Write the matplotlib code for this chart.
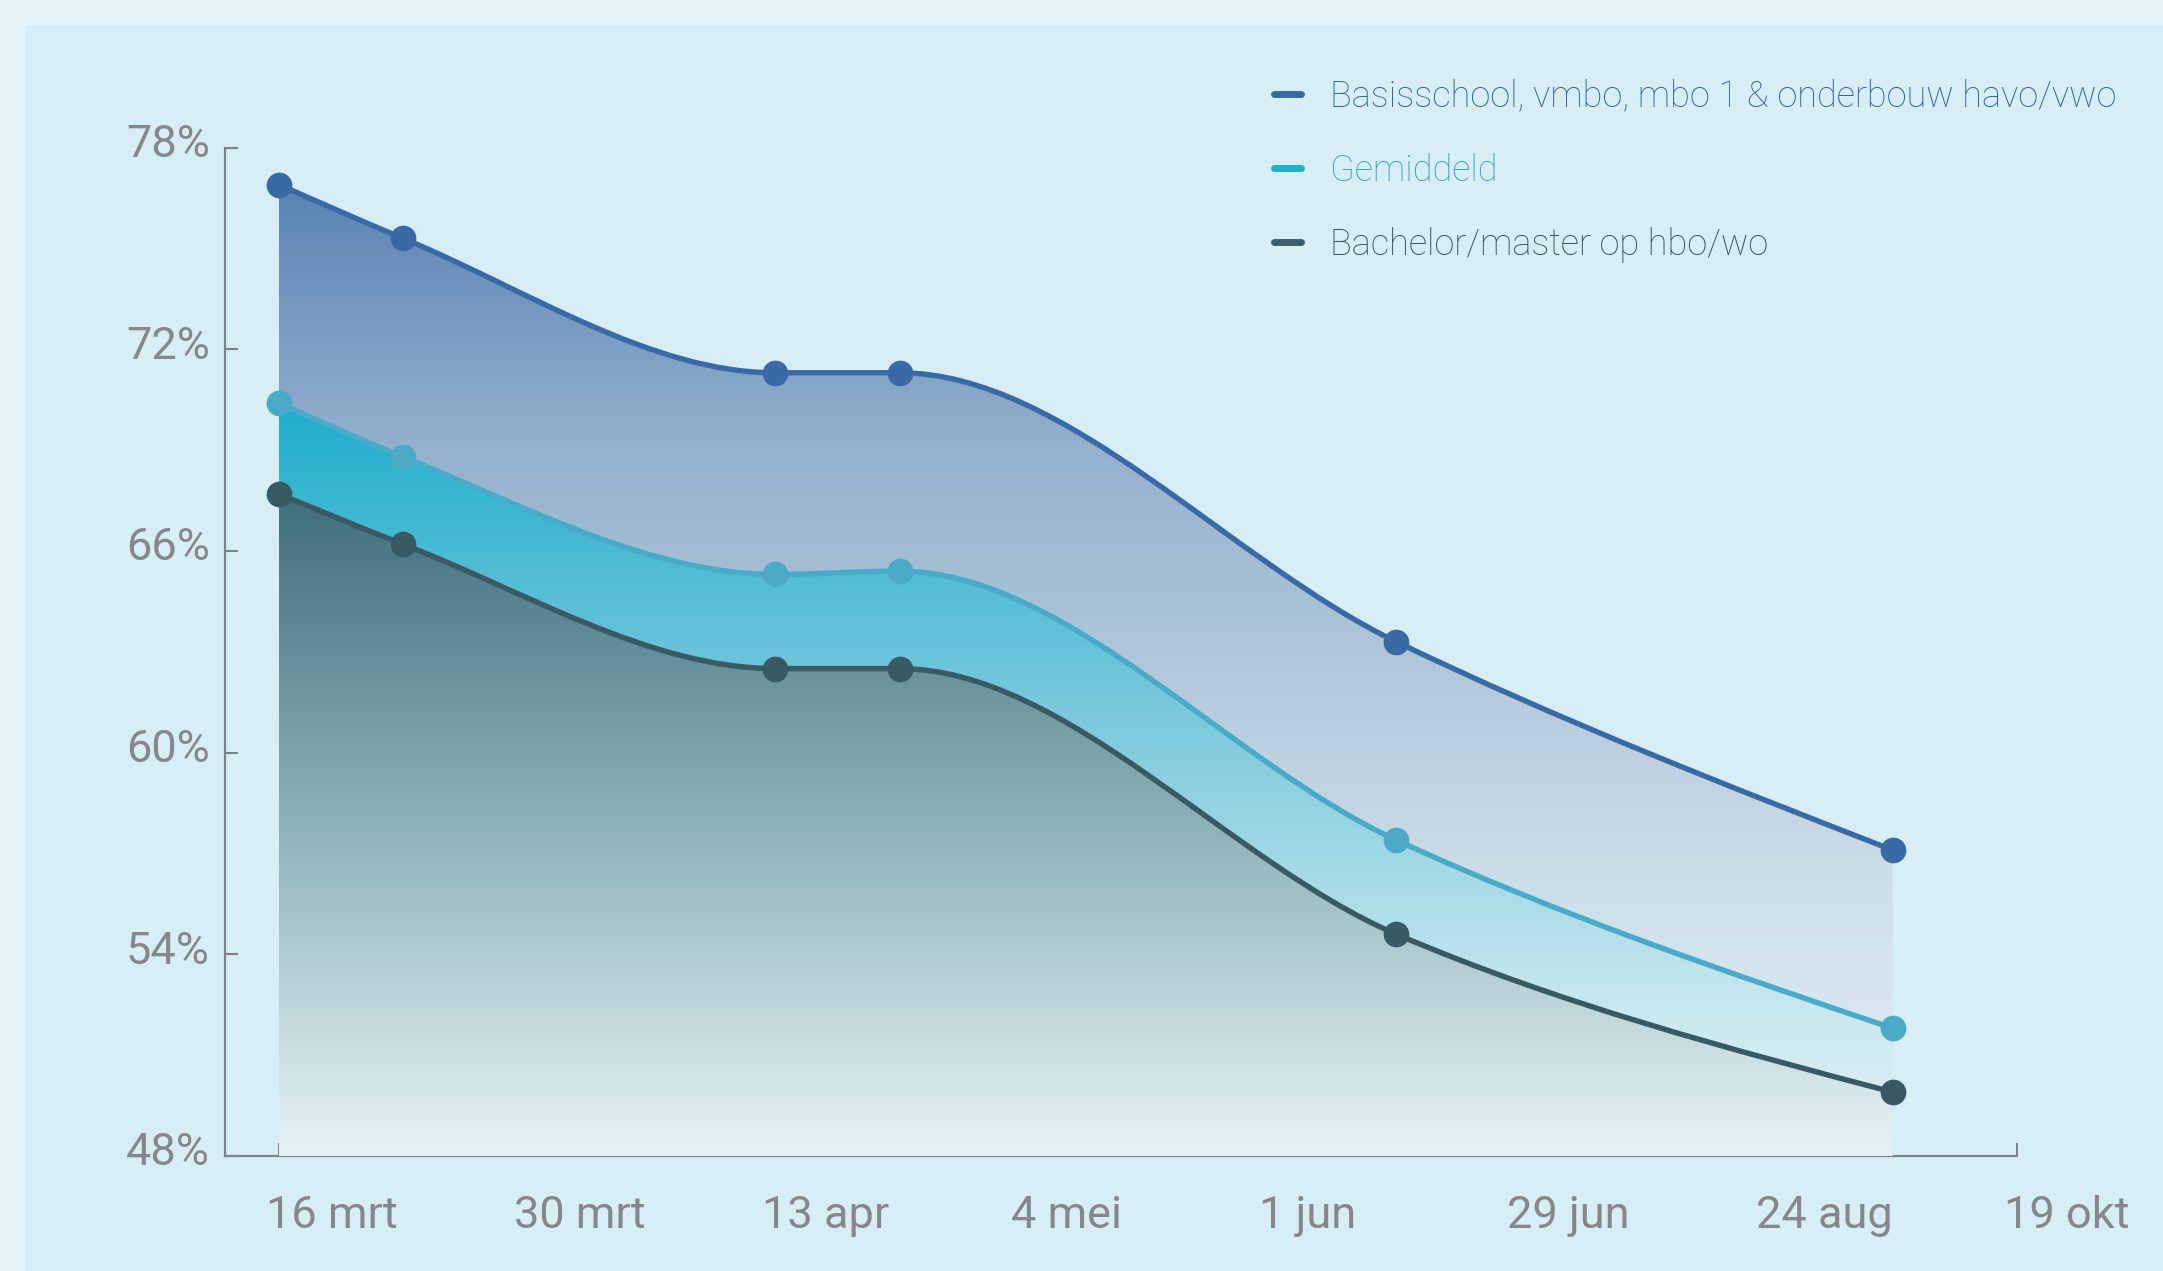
import numpy as np
import matplotlib

matplotlib.use("Agg")
import matplotlib.pyplot as plt
from matplotlib.path import Path
from matplotlib.patches import PathPatch, Rectangle
from matplotlib.lines import Line2D
from matplotlib.colors import LinearSegmentedColormap
from matplotlib.transforms import ScaledTranslation

# ---------------------------------------------------------------------------
# Data (x = position on the ordinal date axis, tick index units)
# ---------------------------------------------------------------------------
tick_labels = ["16 mrt", "30 mrt", "13 apr", "4 mei", "1 jun", "29 jun", "24 aug", "19 okt"]
point_pos = [0.0, 0.5, 2.0, 2.5, 4.5, 6.5]

basis = [76.9, 75.3, 71.3, 71.3, 63.3, 57.1]
gemiddeld = [70.4, 68.8, 65.3, 65.4, 57.4, 51.8]
bachelor = [67.7, 66.2, 62.5, 62.5, 54.6, 49.9]

series_names = [
    "Basisschool, vmbo, mbo 1 & onderbouw havo/vwo",
    "Gemiddeld",
    "Bachelor/master op hbo/wo",
]

Y_MIN, Y_MAX = 48, 78
y_ticks = [48, 54, 60, 66, 72, 78]

# styles
line_colors = ["#3a6aa6", "#4aaac7", "#375a65"]
handle_colors = ["#3a6aa6", "#1cb0cc", "#3d5e68"]
text_colors = ["#2f619f", "#3aa2c0", "#34525b"]
grad_stops = [
    [(0.0, "#5a84b4"), (0.27, "#94b1ce"), (0.73, "#cfdfe9"), (1.0, "#e3f2f6")],
    [(0.0, "#1eadcb"), (0.42, "#7ccadd"), (0.8, "#c8e8ef"), (1.0, "#e3f2f6")],
    [(0.0, "#3f6e79"), (0.51, "#8fb3ba"), (0.92, "#d9e9ed"), (1.0, "#e3f2f6")],
]
AXIS_GREY = "#808288"
LABEL_GREY = "#86878c"

plt.rcParams["font.family"] = ["Roboto", "DejaVu Sans"]


def monotone_path(x, y):
    """Bezier path like d3.curveMonotoneX through the points."""
    x = np.asarray(x, float)
    y = np.asarray(y, float)
    n = len(x)
    sgn = lambda v: -1.0 if v < 0 else 1.0
    t = np.zeros(n)
    for i in range(1, n - 1):
        h0, h1 = x[i] - x[i - 1], x[i + 1] - x[i]
        s0, s1 = (y[i] - y[i - 1]) / h0, (y[i + 1] - y[i]) / h1
        p = (s0 * h1 + s1 * h0) / (h0 + h1)
        t[i] = (sgn(s0) + sgn(s1)) * min(abs(s0), abs(s1), 0.5 * abs(p))
    t[0] = (3 * (y[1] - y[0]) / (x[1] - x[0]) - t[1]) / 2
    t[-1] = (3 * (y[-1] - y[-2]) / (x[-1] - x[-2]) - t[-2]) / 2
    verts = [(x[0], y[0])]
    codes = [Path.MOVETO]
    for i in range(n - 1):
        dx = (x[i + 1] - x[i]) / 3
        verts += [(x[i] + dx, y[i] + dx * t[i]),
                  (x[i + 1] - dx, y[i + 1] - dx * t[i + 1]),
                  (x[i + 1], y[i + 1])]
        codes += [Path.CURVE4] * 3
    return verts, codes


fig = plt.figure(figsize=(21.63, 12.71), dpi=100, facecolor="#e6f4fa")
# inner panel behind the chart
fig.add_artist(Rectangle((25 / 2163, 0), 1, 1 - 25 / 1271, transform=fig.transFigure,
                         facecolor="#d8eef5", edgecolor="none", zorder=-10))

ax = fig.add_axes([0.104, 0.0905, 0.9324 - 0.104, 0.8839 - 0.0905])
ax.set_facecolor("none")
ax.set_zorder(1)

all_series = [basis, gemiddeld, bachelor]

# --- gradient fills --------------------------------------------------------
for k, vals in enumerate(all_series):
    verts, codes = monotone_path(point_pos, vals)
    verts = verts + [(point_pos[-1], Y_MIN), (point_pos[0], Y_MIN), (point_pos[0], vals[0])]
    codes = codes + [Path.LINETO, Path.LINETO, Path.CLOSEPOLY]
    patch = PathPatch(Path(verts, codes), facecolor="none", edgecolor="none")
    ax.add_patch(patch)
    cmap = LinearSegmentedColormap.from_list(f"g{k}", grad_stops[k])
    grad = np.linspace(1, 0, 256).reshape(-1, 1)
    top = max(vals)
    im = ax.imshow(grad, cmap=cmap, vmin=0, vmax=1, aspect="auto", origin="lower",
                   extent=(point_pos[0], point_pos[-1], Y_MIN, top),
                   interpolation="bilinear", zorder=1 + k)
    im.set_clip_path(patch)

# --- lines and markers -----------------------------------------------------
for k, vals in enumerate(all_series):
    verts, codes = monotone_path(point_pos, vals)
    ax.add_patch(PathPatch(Path(verts, codes), facecolor="none",
                           edgecolor=line_colors[k], linewidth=3.9, zorder=5))
for k, vals in enumerate(all_series):
    ax.plot(point_pos, vals, linestyle="none", marker="o", markersize=18.5,
            color=line_colors[k], markeredgewidth=0, zorder=6)

ax.set_xlim(-0.217, 7)
ax.set_ylim(Y_MIN, Y_MAX)

ax.set_xticks(range(len(tick_labels)))
ax.set_xticklabels(tick_labels, ha="left")
ax.set_yticks(y_ticks)
ax.set_yticklabels([f"{v}%" for v in y_ticks])

for s in ("top", "right"):
    ax.spines[s].set_visible(False)
for s in ("left", "bottom"):
    ax.spines[s].set_color(AXIS_GREY)
    ax.spines[s].set_linewidth(1.6)

ax.tick_params(axis="both", direction="in", length=9.5, width=1.5, color=AXIS_GREY,
               labelcolor=LABEL_GREY, labelsize=32.5)
ax.tick_params(axis="x", pad=28)
ax.tick_params(axis="y", pad=11)

for lab in ax.get_xticklabels():
    lab.set_transform(lab.get_transform() + ScaledTranslation(-0.13, 0, fig.dpi_scale_trans))
for lab in ax.get_yticklabels():
    lab.set_transform(lab.get_transform() + ScaledTranslation(0, 0.07, fig.dpi_scale_trans))

# --- legend ---------------------------------------------------------------
handles = [Line2D([], [], color=c, linewidth=5, solid_capstyle="round") for c in handle_colors]
leg = ax.legend(handles, series_names, loc="upper left", bbox_to_anchor=(0.589, 0.938),
                bbox_transform=fig.transFigure, frameon=False, fontsize=26,
                handlelength=0.75, handletextpad=0.8, labelspacing=1.05, borderpad=0,
                borderaxespad=0)
for txt, c in zip(leg.get_texts(), text_colors):
    txt.set_color(c)
    txt.set_fontweight("light")

fig.savefig("out.png", dpi=100, facecolor=fig.get_facecolor())
